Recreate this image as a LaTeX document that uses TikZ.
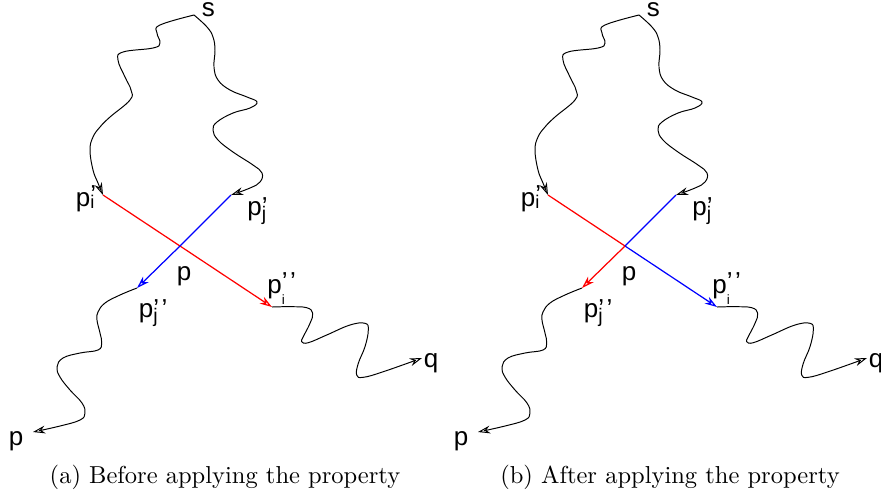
\documentclass[tikz,border=0pt]{standalone}
\usepackage{fontspec}
\newfontfamily\labfont{Liberation Sans}
\usetikzlibrary{arrows.meta}
\newcommand\plab[5]{p\rlap{\raisebox{#2}{#1}}\raisebox{-#4}{\fontsize{#5}{#5}\selectfont #3}}
\newcommand\panel[3]{%
  \coordinate (#1S) at (194,15);
  \coordinate (#1Pi) at (103,195);
  \coordinate (#1Pj) at (231,195);
  \coordinate (#1X) at (180,246);
  \coordinate (#1Qj) at (137,288);
  \coordinate (#1Qi) at (272,307);
  \coordinate (#1P) at (33,432);
  \coordinate (#1Q) at (422,358);
  \draw[wig] plot[smooth,tension=0.7] coordinates {(#1S) (160,25) (157,33) (160,43) (153,48) (123,52) (118,60) (125,77) (131,90) (130,100) (110,117) (100,127) (93,137) (90,150) (93,170) (98,183) (#1Pi)};
  \draw[wig] plot[smooth,tension=0.7] coordinates {(#1S) (207,27) (213,37) (215,50) (214,67) (218,80) (230,90) (247,97) (257,102) (250,108) (233,113) (217,122) (213,130) (218,140) (233,152) (253,165) (262,173) (260,182) (250,188) (#1Pj)};
  \draw[seg,red] (#1Pi) -- (#1X);
  \draw[segarr,#2] (#1X) -- (#1Qi);
  \draw[seg,blue] (#1Pj) -- (#1X);
  \draw[segarr,#3] (#1X) -- (#1Qj);
  \draw[wig] plot[smooth,tension=0.7] coordinates {(#1Qj) (120,295) (105,303) (98,312) (97,320) (100,333) (101.7,343) (98,350) (80,353) (63,358) (57,367) (60,377) (70,390) (82,403) (85,413) (80,420) (60,426) (#1P)};
  \draw[wig] plot[smooth,tension=0.7] coordinates {(#1Qi) (290,306.7) (306.7,307.7) (312.7,313.3) (310,323.3) (303.3,336.7) (301.7,341.7) (308.3,342.7) (326.7,335) (350,325) (365,323.3) (368.3,330) (365,346.7) (358.3,363.3) (356.7,375) (363.3,377.3) (383.3,371.7) (#1Q)};
  \node[lbl, text height=0.55em] (#1ls) at (201.5,16.7) {s};
  \node[lbl] (#1lpi) at (75.5,206) {\plab{’}{1pt}{i}{1.2pt}{7.5pt}};
  \node[lbl] (#1lpj) at (247,215) {\plab{’}{0pt}{j}{2.4pt}{8pt}};
  \node[lbl] (#1lx) at (176.5,280) {p};
  \node[lbl] (#1lqj) at (138.5,317) {\plab{’\kern1pt’}{0pt}{j}{2.4pt}{8pt}};
  \node[lbl] (#1lqi) at (267,293) {\plab{’\kern1pt’}{1pt}{i}{4.6pt}{5.5pt}};
  \node[lbl] (#1lq) at (423.5,367) {q};
  \node[lbl] (#1lp) at (8.5,445) {p};
}
\begin{document}
\begin{tikzpicture}[x=0.408pt,y=-0.408pt,
  lbl/.style={font=\labfont\fontsize{10.6}{12}\selectfont, inner sep=0pt, anchor=base west},
  tipstyle/.style={-{Stealth[open,length=5pt,width=3.2pt,inset=1.6pt]}},
  wig/.style={line width=0.4pt, tipstyle},
  seg/.style={line width=0.5pt},
  segarr/.style={line width=0.5pt, tipstyle},
  captxt/.style={anchor=base, inner sep=0pt, font=\fontsize{10}{12}\selectfont}]
\useasboundingbox (0,0) rectangle (881,498);
\panel{a}{red}{blue}
\begin{scope}[shift={(445,0)}]
\panel{b}{blue}{red}
\end{scope}
\node[captxt] (capa) at (225,483) {(a) Before applying the property};
\node[captxt] (capb) at (670,483) {(b) After applying the property};
\end{tikzpicture}
\end{document}
